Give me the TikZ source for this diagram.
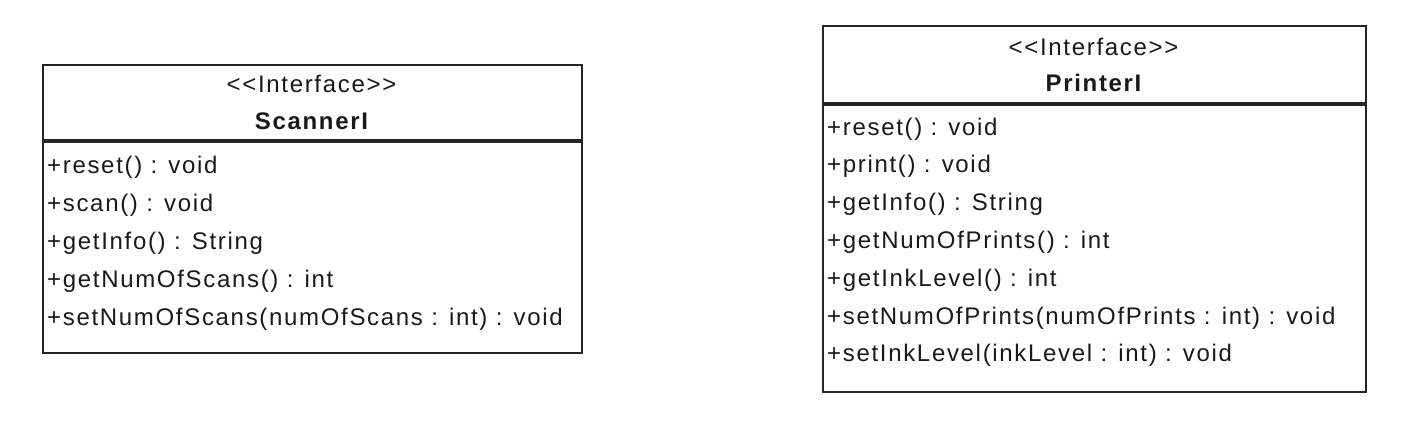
\documentclass[tikz,border=0pt]{standalone}
\usepackage{fontspec}
\usepackage{tikz}
\usetikzlibrary{positioning}
\newfontfamily\umlfamily{Liberation Sans}[LetterSpace=7]
\newcommand{\umlfont}{\umlfamily\fontsize{24}{29}\selectfont}

\begin{document}
\begin{tikzpicture}[
    x=1pt, y=-1pt,
    classhead/.style={draw=black!85, line width=2pt, inner sep=0pt, anchor=north west},
    classbody/.style={draw=black!85, line width=2pt, inner sep=0pt},
    stereotype/.style={text=black!90, inner sep=0pt, anchor=base, font=\umlfont},
    classname/.style={text=black!90, inner sep=0pt, anchor=base, font=\umlfont\bfseries},
    member/.style={text=black!90, inner sep=0pt, anchor=base west, font=\umlfont}
]
\useasboundingbox (0,0) rectangle (1407,437);

% ScannerI interface
\node[classhead, minimum width=539pt, minimum height=75pt] (scanner-head) at (42,64) {};
\node[classbody, minimum width=539pt, minimum height=211pt, below=0pt of scanner-head] (scanner-body) {};
\node[stereotype] (scanner-stereo) at (311.5,92) {<<Interface>>};
\node[classname] (scanner-name) at (311.5,129) {ScannerI};
\foreach \m [count=\i] in {
    {+reset() : void},
    {+scan() : void},
    {+getInfo() : String},
    {+getNumOfScans() : int},
    {+setNumOfScans(numOfScans : int) : void}} {
    \node[member] (scanner-op\i) at ({47}, {173+(\i-1)*38}) {\m};
}

% PrinterI interface
\node[classhead, minimum width=543pt, minimum height=77pt] (printer-head) at (822,25) {};
\node[classbody, minimum width=543pt, minimum height=287pt, below=0pt of printer-head] (printer-body) {};
\node[stereotype] (printer-stereo) at (1093.5,55) {<<Interface>>};
\node[classname] (printer-name) at (1093.5,91) {PrinterI};
\foreach \m [count=\i] in {
    {+reset() : void},
    {+print() : void},
    {+getInfo() : String},
    {+getNumOfPrints() : int},
    {+getInkLevel() : int},
    {+setNumOfPrints(numOfPrints : int) : void},
    {+setInkLevel(inkLevel : int) : void}} {
    \node[member] (printer-op\i) at ({827}, {135+(\i-1)*37.8}) {\m};
}

\end{tikzpicture}
\end{document}
